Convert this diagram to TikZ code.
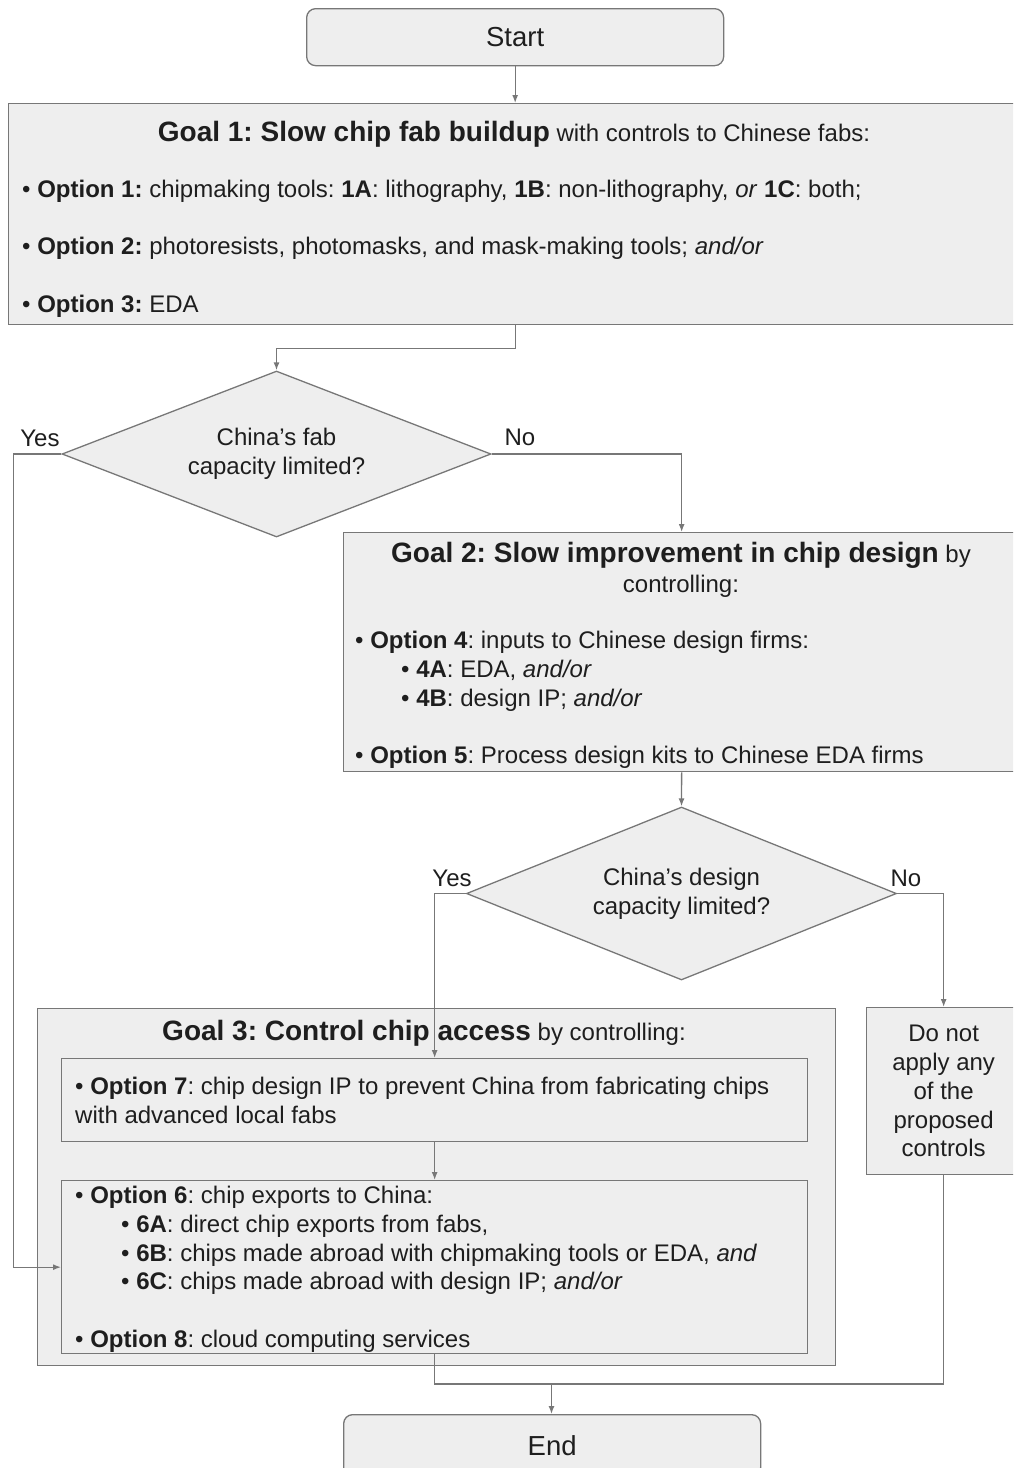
\documentclass[tikz,border=0pt]{standalone}
\usepackage{fontspec}
\setmainfont{Liberation Sans}
\usetikzlibrary{shapes.geometric, arrows.meta}

\definecolor{boxfill}{HTML}{EEEEEE}
\definecolor{boxline}{HTML}{777777}
\definecolor{inktext}{HTML}{1E1E1E}
\newcommand{\bodyfont}{\fontsize{24}{28.7}\selectfont}
\newcommand{\titlefont}{\fontsize{28}{30}\selectfont\bfseries}
\newcommand{\sub}{\hspace*{46pt}}
\frenchspacing

\begin{document}
\begin{tikzpicture}[x=1pt, y=-1pt,
    every node/.style={text=inktext, font=\bodyfont, inner sep=0pt},
    box/.style={draw=boxline, line width=1.3pt, fill=boxfill, anchor=north west},
    roundbox/.style={box, rounded corners=9pt},
    decision/.style={diamond, draw=boxline, line width=1.3pt, fill=boxfill, align=center},
    line/.style={draw=boxline, line width=1.3pt},
    arr/.style={line, -{Latex[length=8pt,width=6pt]}},
    list/.style={anchor=north west, align=left}]
    \useasboundingbox (0,0) rectangle (1013,1468);
    \clip (0,0) rectangle (1013,1468);

    % Start
    \node[roundbox, minimum width=417pt, minimum height=57pt] (start) at (306,8)
        {\fontsize{27.5}{30}\selectfont Start};

    % Goal 1 box
    \node[box, minimum width=1012pt, minimum height=221pt] (goal1) at (8,103) {};
    \node[anchor=base] (goal1title) at (514,141)
        {{\titlefont Goal 1: Slow chip fab buildup} with controls to Chinese fabs:};
    \node[list] (goal1list) at (22,180) {%
        • \textbf{Option 1:} chipmaking tools: \textbf{1A}: lithography, \textbf{1B}: non-lithography, \textit{or} \textbf{1C}: both;\\[28.7pt]
        • \textbf{Option 2:} photoresists, photomasks, and mask-making tools; \textit{and/or}\\[28.7pt]
        • \textbf{Option 3:} EDA};

    % First decision
    \node[decision, aspect=2.58, minimum width=429pt, minimum height=166pt] (dia1) at (276.5,454)
        {China’s fab\\capacity limited?};
    \node[anchor=base] (yes1) at (40,446) {Yes};
    \node[anchor=base] (no1) at (520,445) {No};

    % Goal 2 box
    \node[box, minimum width=676pt, minimum height=239pt] (goal2) at (343,532) {};
    \node[anchor=north, align=center, font=\fontsize{24}{30}\selectfont] (goal2title) at (681,542)
        {{\titlefont Goal 2: Slow improvement in chip design} by\\controlling:};
    \node[list] (goal2list) at (355,631) {%
        • \textbf{Option 4}: inputs to Chinese design firms:\\
        \sub• \textbf{4A}: EDA, \textit{and/or}\\
        \sub• \textbf{4B}: design IP; \textit{and/or}\\[28.7pt]
        • \textbf{Option 5}: Process design kits to Chinese EDA firms};

    % Second decision
    \node[decision, aspect=2.49, minimum width=430pt, minimum height=173pt] (dia2) at (681.5,893.5)
        {China’s design\\capacity limited?};
    \node[anchor=base] (yes2) at (452,886) {Yes};
    \node[anchor=base] (no2) at (906,886) {No};

    % Goal 3 box with its two option boxes
    \node[box, minimum width=798pt, minimum height=357pt] (goal3) at (37,1008) {};
    \node[anchor=base] (goal3title) at (424,1040)
        {{\titlefont Goal 3: Control chip access} by controlling:};
    \node[box, minimum width=746pt, minimum height=83pt] (opt7) at (61,1058) {};
    \node[list] (opt7list) at (75,1077) {%
        • \textbf{Option 7}: chip design IP to prevent China from fabricating chips\\
        with advanced local fabs};
    \node[box, minimum width=746pt, minimum height=173pt] (opt6) at (61,1180) {};
    \node[list] (opt6list) at (75,1186) {%
        • \textbf{Option 6}: chip exports to China:\\
        \sub• \textbf{6A}: direct chip exports from fabs,\\
        \sub• \textbf{6B}: chips made abroad with chipmaking tools or EDA, \textit{and}\\
        \sub• \textbf{6C}: chips made abroad with design IP; \textit{and/or}\\[28.7pt]
        • \textbf{Option 8}: cloud computing services};

    % No controls
    \node[box, minimum width=154pt, minimum height=167pt, align=center] (donot) at (866,1007)
        {Do not\\apply any\\of the\\proposed\\controls};

    % End
    \node[roundbox, minimum width=417pt, minimum height=62pt] (end) at (343,1414)
        {\fontsize{27.5}{30}\selectfont End};

    % Connectors
    \draw[arr] (start.south) -- (start.south |- goal1.north);
    \draw[arr] (start.south |- goal1.south) -- ++(0,23) -| (dia1.north);
    \draw[arr] (dia1.west) -- ++(-48,0) |- (opt6.west);
    \draw[arr] (dia1.east) -| (goal2.north);
    \draw[arr] (goal2.south) -- (dia2.north);
    \draw[arr] (dia2.west) -| (opt7.north);
    \draw[arr] (dia2.east) -| (donot.north);
    \draw[arr] (opt7.south) -- (opt6.north);
    \coordinate (merge) at (551.5,1384);
    \draw[line] (opt6.south) |- (merge) -| (donot.south);
    \draw[arr] (merge) -- (merge |- end.north);
\end{tikzpicture}
\end{document}
